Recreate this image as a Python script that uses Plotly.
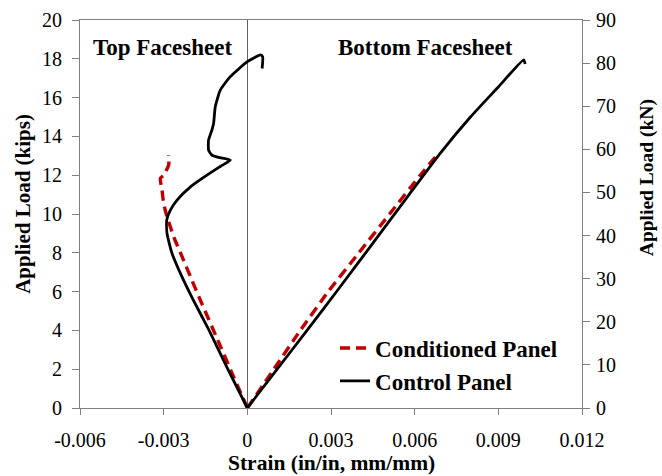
import plotly.graph_objects as go

# Conditioned panel: top facesheet (compression) then bottom facesheet (tension)
cond_top_strain = [0, -0.00055, -0.00106, -0.00174, -0.00204, -0.00234, -0.00264, -0.00288, -0.0030, -0.00306, -0.00312, -0.0030, -0.00282, -0.00282]
cond_top_load = [0, 1.8, 3.5, 5.74, 6.77, 7.8, 8.83, 9.86, 10.55, 11.24, 11.84, 12.0, 12.53, 13.04]
cond_bot_strain = [0, 0.00095, 0.0019, 0.0029, 0.0040, 0.0051, 0.0062, 0.0068]
cond_bot_load = [0, 2, 4, 6, 8, 10, 12, 13.04]

# Control panel
ctrl_top_strain = [0, -0.0007, -0.00137, -0.00195, -0.0024, -0.0027, -0.00288, -0.00289, -0.00276, -0.00252,
                   -0.00204, -0.00145, -0.00097, -0.00061, -0.00103, -0.00127, -0.00139, -0.00139, -0.00127,
                   -0.00121, -0.00115, -0.00097, -0.00061, 0.0, 0.00047, 0.00055, 0.00053]
ctrl_top_load = [0, 2.0, 4.0, 5.6, 6.94, 7.97, 9.0, 9.69, 10.2, 10.72,
                 11.4, 12.0, 12.45, 12.78, 12.92, 13.04, 13.3, 13.81, 14.33,
                 14.67, 15.53, 16.39, 17.08, 17.85, 18.2, 18.1, 17.5]
ctrl_bot_strain = [0, 0.00107, 0.00214, 0.00333, 0.00453, 0.0058, 0.0069, 0.0080, 0.0090, 0.00991, 0.00996]
ctrl_bot_load = [0, 2.0, 4.0, 6.25, 8.55, 11.0, 13.1, 15.0, 16.55, 17.95, 17.73]

x_ticks = [-0.006, -0.003, 0, 0.003, 0.006, 0.009, 0.012]
x_tick_labels = ["-0.006", "-0.003", "0", "0.003", "0.006", "0.009", "0.012"]
kips_ticks = [0, 2, 4, 6, 8, 10, 12, 14, 16, 18, 20]
kn_ticks = [0, 10, 20, 30, 40, 50, 60, 70, 80, 90]

FONT = "Liberation Serif"
AX = "#808080"
TICKFONT = dict(family=FONT, size=20, color="black")

fig = go.Figure()
fig.add_trace(go.Scatter(
    x=cond_top_strain + [None] + cond_bot_strain,
    y=cond_top_load + [None] + cond_bot_load,
    mode="lines", name="Conditioned Panel", connectgaps=False,
    line=dict(color="#C00000", width=3.4, dash="10px,6px", shape="spline", smoothing=0.5),
))
fig.add_trace(go.Scatter(
    x=ctrl_top_strain + [None] + ctrl_bot_strain,
    y=ctrl_top_load + [None] + ctrl_bot_load,
    mode="lines", name="Control Panel", connectgaps=False,
    line=dict(color="black", width=2.8, shape="spline", smoothing=0.5),
))
# invisible trace to anchor the secondary (kN) axis
fig.add_trace(go.Scatter(
    x=[0], y=[0], yaxis="y2", mode="markers", marker=dict(opacity=0),
    showlegend=False, hoverinfo="skip",
))

fig.update_layout(
    width=662, height=476,
    margin=dict(l=80, r=80, t=20, b=68),
    paper_bgcolor="white", plot_bgcolor="white",
    font=dict(family=FONT, size=20, color="black"),
    showlegend=True,
    legend=dict(x=0.508, y=0.21, xanchor="left", yanchor="top",
                bgcolor="rgba(0,0,0,0)", font=dict(family=FONT, size=23, color="black", weight="bold"),
                tracegroupgap=0, itemwidth=30),
    xaxis=dict(range=[-0.006, 0.012], tickvals=x_ticks, ticktext=x_tick_labels, tickfont=TICKFONT,
               showgrid=False, zeroline=True, zerolinecolor="#606060", zerolinewidth=1,
               showline=True, linecolor=AX, linewidth=1, mirror=True, automargin=False,
               ticks="outside", ticklen=6, tickcolor=AX, ticklabelstandoff=8),
    yaxis=dict(range=[0, 20], tickvals=kips_ticks, tickfont=TICKFONT, showgrid=False, zeroline=False,
               showline=True, linecolor=AX, linewidth=1, mirror=True, automargin=False,
               ticks="outside", ticklen=7, tickcolor=AX, ticklabelstandoff=6),
    yaxis2=dict(range=[0, 90], tickvals=kn_ticks, tickfont=TICKFONT, overlaying="y", side="right",
                showgrid=False, zeroline=False, showline=True, linecolor=AX, linewidth=1,
                automargin=False, ticks="outside", ticklen=7, tickcolor=AX, ticklabelstandoff=2),
    annotations=[
        dict(x=-0.00305, y=18.6, xref="x", yref="y", text="<b>Top Facesheet</b>",
             showarrow=False, font=dict(family=FONT, size=23, color="black")),
        dict(x=0.00638, y=18.6, xref="x", yref="y", text="<b>Bottom Facesheet</b>",
             showarrow=False, font=dict(family=FONT, size=23, color="black")),
        # axis titles
        dict(x=0.5, y=-0.1405, xref="paper", yref="paper", text="<b>Strain (in/in, mm/mm)</b>",
             showarrow=False, xanchor="center", yanchor="middle",
             font=dict(family=FONT, size=21.5, color="black")),
        dict(x=-0.115, y=0.527, xref="paper", yref="paper", text="<b>Applied Load (kips)</b>",
             showarrow=False, xanchor="center", yanchor="middle", textangle=-90,
             font=dict(family=FONT, size=21, color="black")),
        dict(x=1.13, y=0.593, xref="paper", yref="paper", text="<b>Applied Load (kN)</b>",
             showarrow=False, xanchor="center", yanchor="middle", textangle=-90,
             font=dict(family=FONT, size=19.5, color="black")),
    ],
)

fig.write_html("out.html", config={"displayModeBar": False},
               post_script="document.body.style.margin='0';")
